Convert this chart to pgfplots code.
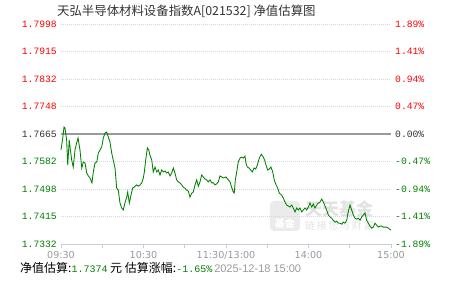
\documentclass[border=0pt]{standalone}
\usepackage{pgfplots}
\pgfplotsset{compat=1.18}
\usepackage{pgfplotstable}
\usepackage{fontspec}
\setmainfont{Liberation Sans}
\setmonofont{Liberation Mono}
\newfontfamily\cjk{Noto Sans CJK SC}
\newfontfamily\dejavu{DejaVu Sans}
\definecolor{upred}{HTML}{FF0000}
\definecolor{dngreen}{HTML}{008000}
\definecolor{zerotxt}{HTML}{333333}
\definecolor{axisblue}{HTML}{C5D0DC}
\definecolor{tickgray}{HTML}{999999}
\definecolor{gridgray}{HTML}{D8D8D8}
\definecolor{zeroline}{HTML}{999999}
\definecolor{linegreen}{HTML}{008000}
\definecolor{wmgray}{HTML}{E2E2E2}

\pgfplotstableread{
m v
0 1.7617
1.1 1.7647
2.2 1.7686
2.9 1.7683
4.1 1.7647
4.9 1.7571
6.0 1.7647
6.8 1.7617
7.8 1.7586
8.9 1.7565
10.2 1.7617
11.4 1.7638
12.4 1.7653
13.8 1.7617
15.1 1.7562
16.2 1.7580
17.5 1.7577
18.7 1.7547
19.9 1.7538
21.1 1.7532
22.5 1.7517
23.5 1.7550
24.7 1.7577
26.0 1.7580
27.1 1.7607
28.4 1.7617
29.6 1.7626
30.8 1.7653
32.0 1.7668
33.2 1.7671
34.4 1.7656
35.6 1.7641
36.9 1.7607
38.0 1.7586
39.3 1.7562
40.5 1.7501
41.7 1.7495
42.9 1.7456
44.1 1.7441
45.3 1.7435
46.5 1.7456
47.8 1.7474
48.5 1.7489
49.7 1.7456
50.9 1.7480
52.1 1.7501
53.1 1.7504
55.1 1.7511
56.2 1.7507
57.5 1.7511
58.7 1.7517
59.9 1.7532
60.6 1.7550
61.6 1.7586
62.8 1.7623
63.8 1.7617
64.7 1.7601
66.0 1.7586
67.1 1.7550
68.4 1.7565
69.6 1.7550
70.8 1.7556
72.0 1.7541
73.2 1.7556
74.4 1.7550
75.6 1.7553
76.9 1.7547
78.0 1.7550
79.3 1.7538
80.5 1.7547
81.7 1.7562
82.9 1.7547
84.1 1.7526
85.3 1.7520
86.5 1.7517
87.8 1.7511
88.9 1.7504
90.2 1.7501
91.4 1.7495
92.6 1.7492
93.8 1.7474
95.1 1.7486
96.2 1.7489
97.5 1.7511
98.7 1.7526
99.9 1.7507
101.1 1.7520
102.3 1.7541
103.5 1.7535
104.7 1.7529
106.0 1.7526
107.1 1.7520
108.4 1.7526
109.6 1.7517
110.8 1.7517
112.0 1.7511
113.2 1.7514
114.4 1.7520
115.6 1.7538
118.0 1.7532
120.0 1.7535
121.7 1.7526
122.9 1.7520
124.1 1.7504
125.3 1.7489
126.0 1.7486
126.8 1.7526
127.8 1.7550
128.9 1.7580
130.2 1.7592
131.4 1.7595
132.6 1.7592
133.8 1.7598
134.5 1.7577
135.5 1.7565
136.7 1.7562
138.0 1.7556
139.1 1.7550
140.4 1.7562
141.6 1.7559
142.8 1.7571
144.2 1.7592
145.7 1.7604
147.1 1.7595
148.1 1.7586
149.1 1.7571
150.3 1.7556
151.5 1.7559
152.7 1.7565
154.0 1.7550
155.1 1.7526
156.4 1.7511
157.6 1.7501
158.8 1.7486
160.5 1.7480
161.7 1.7471
162.9 1.7459
164.1 1.7450
165.3 1.7447
166.5 1.7444
167.8 1.7450
168.9 1.7441
170.2 1.7429
171.4 1.7441
172.6 1.7435
173.8 1.7441
175.1 1.7429
176.2 1.7435
177.5 1.7441
178.7 1.7435
179.9 1.7444
181.1 1.7456
182.3 1.7444
183.5 1.7453
184.7 1.7441
186.0 1.7450
187.1 1.7456
188.4 1.7459
189.6 1.7468
190.8 1.7459
192.0 1.7447
193.2 1.7435
194.4 1.7420
195.6 1.7414
196.9 1.7410
198.0 1.7404
199.3 1.7398
200.5 1.7401
201.7 1.7395
202.9 1.7395
204.1 1.7392
205.3 1.7398
206.5 1.7395
207.8 1.7404
208.9 1.7429
210.2 1.7450
211.4 1.7435
212.6 1.7420
213.8 1.7410
215.1 1.7407
216.2 1.7410
217.5 1.7404
218.7 1.7414
219.9 1.7420
221.1 1.7426
222.3 1.7404
223.5 1.7395
224.7 1.7386
226.0 1.7380
227.1 1.7383
228.4 1.7395
229.6 1.7389
230.8 1.7383
232.0 1.7386
233.2 1.7386
234.4 1.7383
235.6 1.7383
236.9 1.7383
238.0 1.7380
240 1.7374
}\navtable

\pgfplotsset{
  common/.style={
    scale only axis, width=330pt, height=220pt,
    at={(0pt,0pt)}, anchor=south west,
    xmin=0, xmax=240, ymin=1.7332, ymax=1.7998,
    ytick={1.7332,1.741525,1.74985,1.758175,1.7665,1.774825,1.78315,1.791475,1.7998},
    y axis line style={draw=none}, y tick style={draw=none},
    yticklabel style={font=\ttfamily\fontsize{9.7}{10}\selectfont, inner sep=0pt},
  }
}

\begin{document}
\begin{tikzpicture}
\useasboundingbox (-61pt,-37pt) rectangle (390pt,244pt);
% watermark
\fill[wmgray!70, rounded corners=4pt] (209pt,13pt) rectangle (239pt,43pt);
\node[text=white, font=\cjk\bfseries\fontsize{10}{10}\selectfont] at (224pt,20pt) {基金};
\node[anchor=west, text=wmgray, font=\cjk\bfseries\fontsize{17}{17}\selectfont, inner sep=0pt] at (244pt,35pt) {天天基金};
\node[anchor=west, text=wmgray, font=\cjk\fontsize{10}{10}\selectfont, inner sep=0pt] at (244pt,18pt) {链\,接\,您\,与\,财\,富};

\begin{axis}[common,
  axis x line*=bottom, axis y line*=left,
  x axis line style={draw=axisblue, -},
  xtick={0,30,...,240},
  xticklabels={09:30,,10:30,,11:30/13:00,,14:00,,15:00},
  x tick style={draw=axisblue, line width=0.8pt},
  tick align=outside, major tick length=4pt,
  xticklabel style={font=\dejavu\fontsize{9.6}{10}\selectfont, text=tickgray, inner sep=0pt, yshift=-3pt},
  yticklabels={\textcolor{dngreen}{1.7332},\textcolor{dngreen}{1.7415},\textcolor{dngreen}{1.7498},\textcolor{dngreen}{1.7582},\textcolor{zerotxt}{1.7665},\textcolor{upred}{1.7748},\textcolor{upred}{1.7832},\textcolor{upred}{1.7915},\textcolor{upred}{1.7998}},
  yticklabel style={xshift=0pt},
  ymajorgrids, grid style={gridgray, dash pattern=on 1pt off 1pt, line width=0.7pt},
  clip=false,
]
\addplot[zeroline, line width=1.1pt, forget plot] coordinates {(0,1.7665) (240,1.7665)};
\addplot[linegreen, line width=0.85pt, mark=none] table[x=m, y=v] {\navtable};
\end{axis}

\begin{axis}[common,
  axis x line=none, axis y line*=right,
  xtick=\empty,
  yticklabels={\textcolor{dngreen}{-1.89\%},\textcolor{dngreen}{-1.41\%},\textcolor{dngreen}{-0.94\%},\textcolor{dngreen}{-0.47\%},\textcolor{zerotxt}{0.00\%},\textcolor{upred}{0.47\%},\textcolor{upred}{0.94\%},\textcolor{upred}{1.41\%},\textcolor{upred}{1.89\%}},
  yticklabel style={xshift=4pt},
]
\end{axis}

\node[anchor=west, inner sep=0pt, text=zerotxt, font=\cjk\fontsize{12.4}{14}\selectfont] at (-4pt,232.5pt) {天弘半导体材料设备指数A[021532] 净值估算图};
\node[anchor=west, inner sep=0pt, text=black, font=\cjk\fontsize{12}{14}\selectfont] at (-41pt,-24pt)
 {净值估算:{\ttfamily\fontsize{10}{12}\selectfont\color{dngreen}1.7374} 元 估算涨幅:{\ttfamily\fontsize{10}{12}\selectfont\color{dngreen}-1.65\%}\,{\fontspec{Liberation Sans}\fontsize{11}{12}\selectfont\color{tickgray}2025-12-18 15:00}};
\end{tikzpicture}
\end{document}
